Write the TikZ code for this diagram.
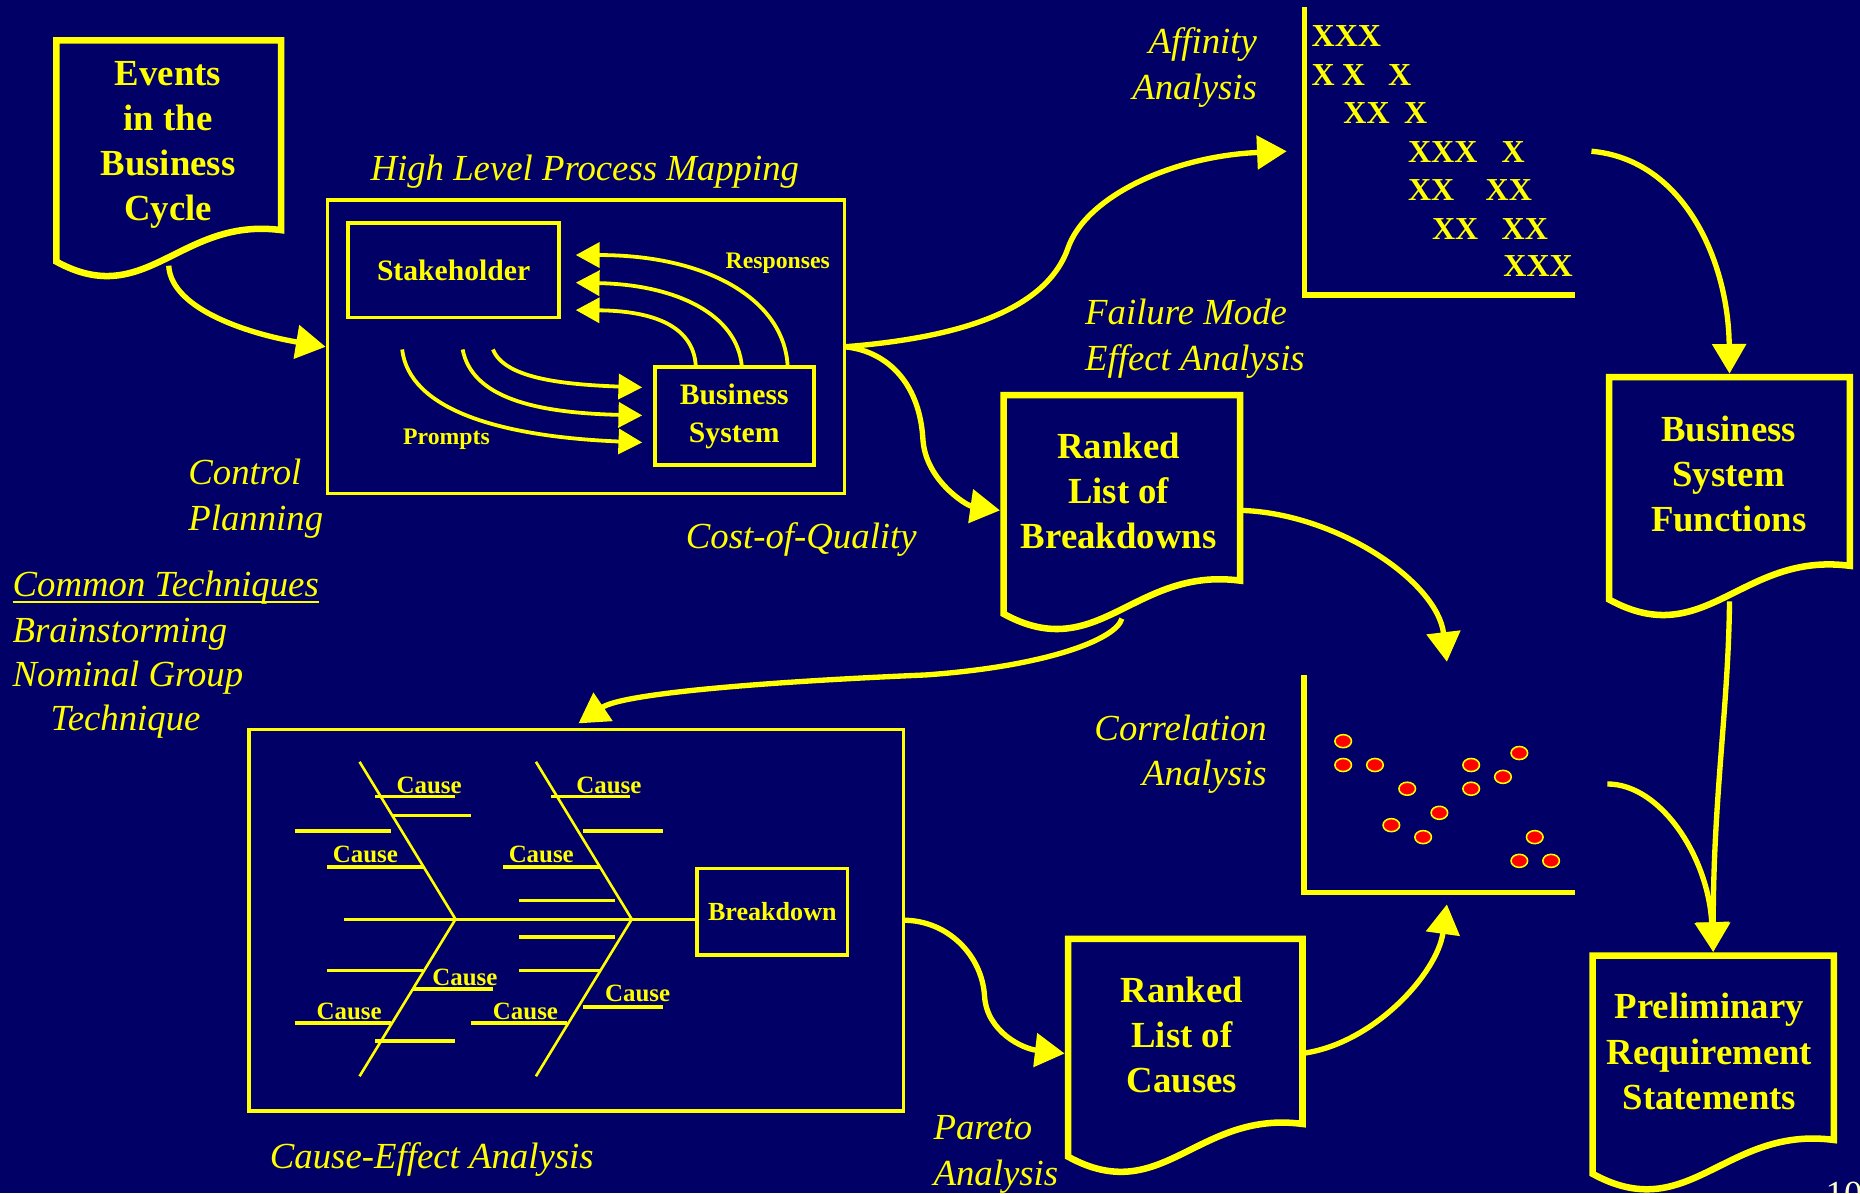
\documentclass[tikz,border=0pt]{standalone}
\usepackage{fontspec}
\setmainfont{Liberation Serif}
\usetikzlibrary{arrows.meta,calc,shapes.geometric}

\definecolor{slidenavy}{RGB}{0,0,102}
\definecolor{hiyellow}{RGB}{255,255,0}
\definecolor{dotred}{RGB}{255,0,0}
\definecolor{pagecream}{RGB}{255,255,204}

% several centred / aligned lines sharing the first baseline
\newcommand\textlines[2][c]{\begin{tabular}[t]{@{}#1@{}}#2\end{tabular}}

\tikzset{
  every node/.style={text=hiyellow, inner sep=0pt, outer sep=0pt},
  docframe/.style={rectangle, draw=none, inner sep=0pt, outer sep=0pt},
  docline/.style={draw=hiyellow, line width=5.5pt, line join=miter},
  boxed/.style={rectangle, draw=hiyellow, line width=3pt},
  conn/.style={draw=hiyellow, line width=4.5pt, -{Triangle[length=25pt,width=28pt]}},
  thinconn/.style={draw=hiyellow, line width=3.2pt, -{Triangle[length=20pt,width=21pt]}},
  axisline/.style={draw=hiyellow, line width=4.8pt, line join=miter},
  fishline/.style={draw=hiyellow, line width=2.8pt},
  boneline/.style={draw=hiyellow, line width=2.2pt},
  doctext/.style={font=\bfseries\fontsize{31}{38}\selectfont, anchor=base},
  inbox/.style={font=\bfseries\fontsize{25}{31.5}\selectfont},
  smallbold/.style={font=\bfseries\fontsize{20}{24}\selectfont, anchor=base},
  causetext/.style={font=\bfseries\fontsize{21}{25}\selectfont, anchor=base},
  xmark/.style={font=\bfseries\fontsize{27}{32}\selectfont, anchor=base west},
  note/.style={font=\itshape\fontsize{31}{38.5}\selectfont, anchor=base},
  scatterdot/.style={ellipse, draw=hiyellow, fill=dotred, line width=1.3pt,
                     minimum width=14pt, minimum height=11pt},
}

% document symbol: name, left, top, right, bottom of the right edge
\newcommand\docshape[5]{%
  \pgfmathsetmacro\docW{#4-#2}%
  \pgfmathsetmacro\docH{#5-#3}%
  \node[docframe, minimum width=\docW pt, minimum height=\docH pt] (#1)
       at ({(#2+#4)/2},{(#3+#5)/2}) {};
  \draw[docline] ($(#1.south west)+(0,{0.14*\docW})$)
     .. controls +({0.4*\docW},{0.22*\docW}) and +({-0.45*\docW},{-0.06*\docW}) .. (#1.south east)
     -- (#1.north east) -- (#1.north west) -- cycle;
}

\begin{document}
\begin{tikzpicture}[x=1pt,y=-1pt]
\fill[slidenavy] (0,0) rectangle (1568,1006);
\useasboundingbox (0,0) rectangle (1568,1006);

% ---------- document symbols ----------
\docshape{events}{47.5}{34}{237}{194}
\docshape{breakdowns}{846}{333}{1045.5}{489.5}
\docshape{causes}{900.5}{791.5}{1098}{947.5}
\docshape{bsf}{1356.5}{318}{1559.5}{477}
\docshape{prs}{1342.5}{805.5}{1546}{961}

\node[doctext] (events-text) at (141.7,71.7) {\textlines{Events\\in the\\Business\\Cycle}};
\node[doctext] (breakdowns-text) at (943,386.4) {\textlines{Ranked\\List of\\Breakdowns}};
\node[doctext] (causes-text) at (996.3,845.4) {\textlines{Ranked\\List of\\Causes}};
\node[doctext] (bsf-text) at (1457.3,372.4) {\textlines{Business\\System\\Functions}};
\node[doctext] (prs-text) at (1441,859) {\textlines{Preliminary\\Requirement\\Statements}};

% ---------- high level process map ----------
\node[note] (hlpm-title) at (493,152.4) {High Level Process Mapping};
\node[boxed, minimum width=436pt, minimum height=247.3pt] (hlpm) at (494,292.35) {};
\node[boxed, inbox, minimum width=177.8pt, minimum height=79.7pt] (stake) at (382.4,227.65) {Stakeholder};
\node[boxed, inbox, minimum width=134pt, minimum height=82.7pt] (bsys) at (619,350.65) {\textlines{Business\\System}};

% responses: system back to stakeholder
\draw[thinconn] ([xshift=45pt]bsys.north) .. controls +(-2,-54.3) and +(114.6,0) .. ([xshift=14.1pt,yshift=12.65pt]stake.east);
\draw[thinconn] ([xshift=6.4pt]bsys.north) .. controls +(-3.4,-44.3) and +(84.6,1.7) .. ([xshift=14.1pt,yshift=-10.65pt]stake.east);
\draw[thinconn] ([xshift=-32.4pt]bsys.north) .. controls +(-1.6,-37.3) and +(59.6,0.6) .. ([xshift=14.1pt,yshift=-33.75pt]stake.east);
\node[smallbold] (responses) at (655.7,226.3) {Responses};

% prompts: towards the system
\coordinate (prompt-a) at (415.5,294.6);
\coordinate (prompt-b) at (390,294.6);
\coordinate (prompt-c) at (339,294.6);
\draw[thinconn] (prompt-a) .. controls +(9.5,23.4) and +(-71.4,-2.6) .. ([xshift=-10.6pt,yshift=24.05pt]bsys.west);
\draw[thinconn] (prompt-b) .. controls +(8,40.4) and +(-91.4,-2.2) .. ([xshift=-10.6pt,yshift=0.45pt]bsys.west);
\draw[thinconn] (prompt-c) .. controls +(6,50.4) and +(-121.4,-5) .. ([xshift=-10.6pt,yshift=-22.35pt]bsys.west);
\node[smallbold] (prompts) at (376.4,374.4) {Prompts};

% ---------- affinity chart ----------
\node[docframe, minimum width=227.9pt, minimum height=242.6pt] (affchart) at (1213.65,127.5) {};
\draw[axisline] (affchart.north west) -- (affchart.south west) -- (affchart.south east);
\node[xmark] (x1a) at (1105.7,39.4) {XXX};
\node[xmark] (x2a) at (1105.7,71.7) {X};
\node[xmark] (x2b) at (1131.3,71.7) {X};
\node[xmark] (x2c) at (1170.2,71.7) {X};
\node[xmark] (x3a) at (1132.5,104) {XX};
\node[xmark] (x3b) at (1183.7,104) {X};
\node[xmark] (x4a) at (1187,137.2) {XXX};
\node[xmark] (x4b) at (1265.9,137.2) {X};
\node[xmark] (x5a) at (1187,169.2) {XX};
\node[xmark] (x5b) at (1252.4,169.2) {XX};
\node[xmark] (x6a) at (1207.2,201.5) {XX};
\node[xmark] (x6b) at (1265.9,201.5) {XX};
\node[xmark] (x7a) at (1267.4,233.3) {XXX};
\node[note, anchor=base east] (affinity) at (1059.6,45) {\textlines[r]{Affinity\\Analysis}};

% ---------- correlation chart ----------
\node[docframe, minimum width=228.5pt, minimum height=183pt] (corrchart) at (1213.75,660.9) {};
\draw[axisline] (corrchart.north west) -- (corrchart.south west) -- (corrchart.south east);
\foreach \px/\py [count=\k] in {1132.3/624.8, 1132.3/644.9, 1159.1/644.9, 1186.3/664.9,
    1240.2/644.9, 1240.2/664.9, 1280.8/634.8, 1267/654.9, 1213.4/685.2, 1172.9/695.6,
    1199.7/705.7, 1293.8/705.7, 1280.8/725.7, 1307.6/725.7}
  \node[scatterdot] (dot\k) at (\px,\py) {};
\node[note, anchor=base east] (corrlabel) at (1067.9,624) {\textlines[r]{Correlation\\Analysis}};

% ---------- cause-effect diagram ----------
\node[boxed, minimum width=551.8pt, minimum height=321.9pt] (fish) at (485.7,775.75) {};
\node[boxed, font=\bfseries\fontsize{22}{26}\selectfont, minimum width=126.8pt, minimum height=72.8pt] (bd) at (651.1,768.7) {Breakdown};
\draw[fishline] (289.9,774.9) -- ([yshift=-6.2pt]bd.west);
\draw[boneline] (303.1,642.2) -- (384,774.9) -- (303.1,907.3);
\draw[boneline] (451.8,642.2) -- (532.6,774.9) -- (451.8,907.3);
\foreach \xa/\xb/\yy in {316.3/383.2/671.7, 330.2/397.2/687.2, 248.9/329.4/700.4,
    275.6/356.5/730.8, 464.9/531.5/671.7, 491.6/558.6/700.4, 424.3/505.6/730.8,
    437.4/518.4/759.4, 437.4/518.4/789.8, 437.4/505.6/818.4, 491.6/558.6/848.8,
    397.2/478.1/862.3, 275.6/356.5/818.4, 348.2/416/833.6, 248.9/329.4/862.3,
    316.3/383.2/877.5}
  \draw[fishline] (\xa,\yy) -- (\xb,\yy);
\foreach \cx/\cy [count=\k] in {361.8/668.9, 308/727.4, 513.3/668.9, 456.3/727.4,
    391.9/830.5, 294.4/859.2, 443/859.2, 537.5/844}
  \node[causetext] (cause\k) at (\cx,\cy) {Cause};
\node[note] (celabel) at (364,985) {Cause-Effect Analysis};

% ---------- free labels ----------
\node[note, anchor=base west] (fmea) at (914.8,273.5) {\textlines[l]{Failure Mode\\Effect Analysis}};
\node[note, anchor=base west] (pareto) at (787,961) {\textlines[l]{Pareto\\Analysis}};
\node[note, anchor=base west] (control) at (158.8,408.4) {\textlines[l]{Control\\Planning}};
\node[note] (coq) at (675.5,462.3) {Cost-of-Quality};
\node[note, anchor=base west] (ct) at (10.7,503.1) {Common Techniques};
\draw[draw=hiyellow, line width=1.6pt] ([yshift=-4.2pt]ct.base west) -- ([yshift=-4.2pt]ct.base east);
\node[note, anchor=base west] (brain) at (10.7,541.9) {Brainstorming};
\node[note, anchor=base west] (ngt) at (10.7,579) {Nominal Group};
\node[note, anchor=base west] (ngt2) at (42.7,615.5) {Technique};
\node[font=\fontsize{31}{38}\selectfont, text=pagecream, anchor=base west] (pagenum) at (1539,1017) {10};

% ---------- connectors ----------
\draw[conn] ([yshift=-30pt]events.south) .. controls +(2,38) and +(-60,-10) .. ([xshift=-1.5pt]hlpm.west);
\draw[conn] (hlpm.east) .. controls +(88,-7) and +(-20,55) .. (900,210)
            .. controls +(15,-45) and +(-95,4) .. ([xshift=-15pt]affchart.west);
\draw[conn] (hlpm.east) .. controls +(33,3) and +(-3,-50) .. (778,370)
            .. controls +(2,35) and +(-28,-4) .. ([xshift=-3pt,yshift=-19pt]breakdowns.west);
\draw[conn] ([yshift=-19pt]breakdowns.east) .. controls +(80,2) and +(-8,-68) .. ([xshift=6pt,yshift=11.5pt]corrchart.north);
\draw[conn] ([yshift=-32pt]breakdowns.south) .. controls +(-5,18) and +(100,-7) .. (780,569)
            .. controls +(-140,6) and +(37,-25) .. ([xshift=2pt,yshift=5pt]fish.north);
\draw[conn] (fish.east) .. controls +(37,0) and +(-2,-35) .. (830,840)
            .. controls +(2,30) and +(-35,-4) .. ([xshift=-3pt,yshift=-18.6pt]causes.west);
\draw[conn] ([yshift=-18.5pt]causes.east) .. controls +(60,-8) and +(-8,58) .. ([xshift=6pt,yshift=-10pt]corrchart.south);
\draw[conn] ([xshift=14pt]affchart.east) .. controls +(78,7) and +(-1,-95) .. ([yshift=3pt]bsf.north);
\draw[conn] ([yshift=-30pt]bsf.south) .. controls +(-1,90) and +(0,-130) .. ([yshift=3pt]prs.north);
\draw[conn] ([xshift=27pt]corrchart.east) .. controls +(45,0) and +(-4,-80) .. ([yshift=3pt]prs.north);
\end{tikzpicture}
\end{document}
